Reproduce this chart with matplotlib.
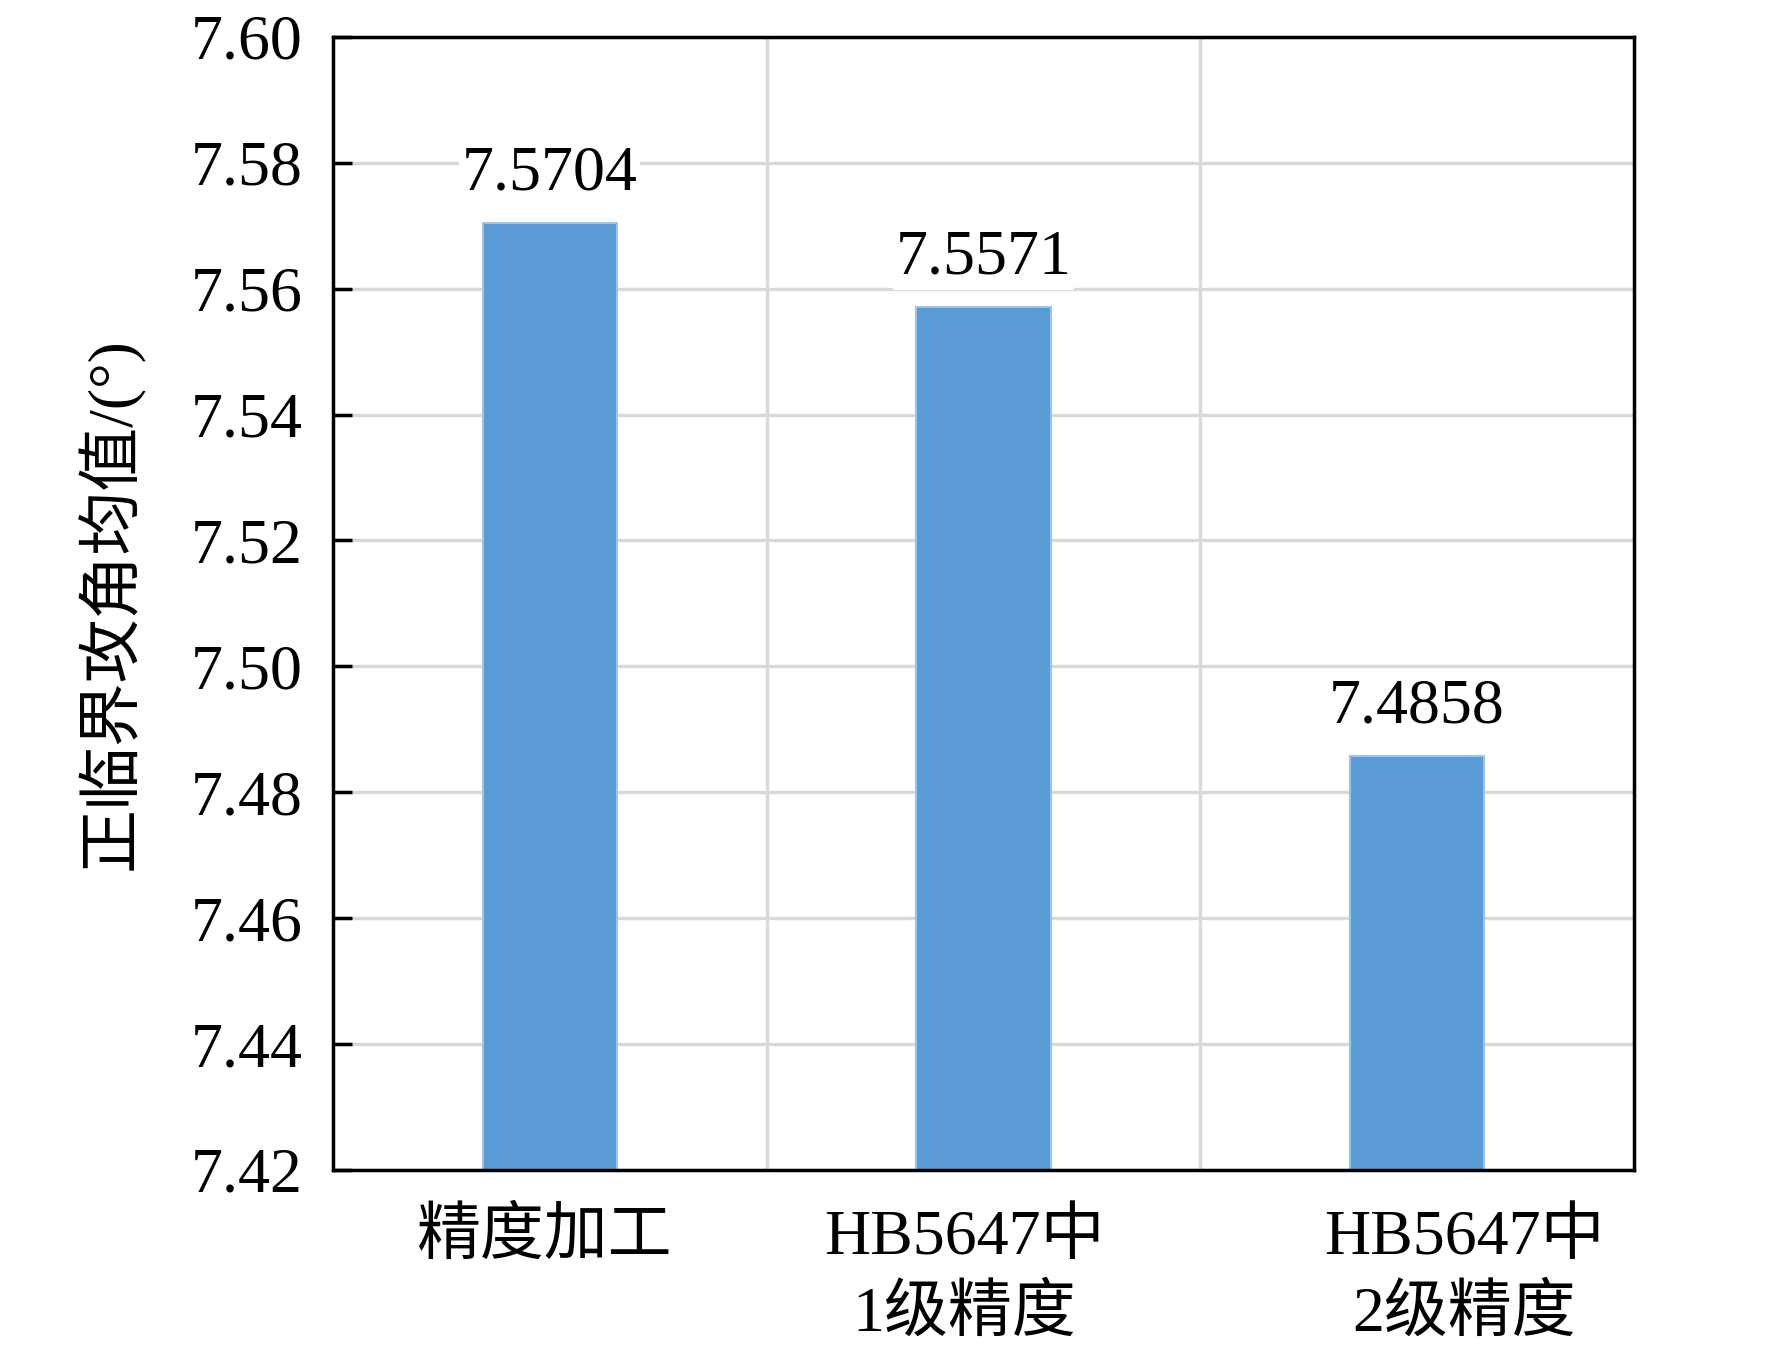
import matplotlib
matplotlib.use("Agg")
import matplotlib.pyplot as plt
import matplotlib.transforms as mtransforms
import numpy as np

categories = ["精度加工", "HB5647中\n1级精度", "HB5647中\n2级精度"]
values = [7.5704, 7.5571, 7.4858]
value_labels = ["7.5704", "7.5571", "7.4858"]
y_ticks = [7.42, 7.44, 7.46, 7.48, 7.50, 7.52, 7.54, 7.56, 7.58, 7.60]
y_label = "正临界攻角均值/(°)"

plt.rcParams['font.family'] = ['Liberation Serif', 'Noto Sans CJK SC', 'DejaVu Sans']
plt.rcParams['font.size'] = 46

fig = plt.figure(figsize=(17.72, 13.53), dpi=100)
ax = fig.add_axes([0.188, 0.1353, 0.734, 0.8374])

x = np.arange(len(categories))
bars = ax.bar(x, values, width=0.31, color='#5b9bd5', edgecolor='#9dc3e6',
              linewidth=1.5, zorder=3)

for xi, v, lab in zip(x, values, value_labels):
    ax.annotate(lab, (xi, v), xytext=(0, 24), textcoords='offset points',
                ha='center', va='baseline', fontsize=46, zorder=5,
                bbox=dict(facecolor='white', edgecolor='none', pad=2))

ax.set_xlim(-0.5, len(categories) - 0.5)
ax.set_ylim(y_ticks[0], y_ticks[-1])
ax.set_yticks(y_ticks)
ax.set_yticklabels([f"{t:.2f}" for t in y_ticks])
ax.set_xticks(x)
ax.set_xticklabels([])
ax.set_xticks(np.arange(len(categories) - 1) + 0.5, minor=True)

# category labels, drawn below the axis with small horizontal nudges (px at 100 dpi)
label_shifts_px = [-6, -19, 47]
for xi, cat, dx in zip(x, categories, label_shifts_px):
    tr = ax.get_xaxis_transform() + mtransforms.ScaledTranslation(
        dx / 100.0, -0.39, fig.dpi_scale_trans)
    ax.text(xi, 0, cat, transform=tr, ha='center', va='top', ma='center',
            fontsize=46, linespacing=1.40, clip_on=False)

ax.grid(axis='y', which='major', color='#d9d9d9', linewidth=2.4, zorder=0)
ax.grid(axis='x', which='minor', color='#d9d9d9', linewidth=2.4, zorder=0)
ax.set_axisbelow(True)

ax.tick_params(axis='y', direction='in', length=14, width=2.5, pad=22, labelsize=46)
ax.tick_params(axis='x', which='both', length=0)

for sp in ax.spines.values():
    sp.set_linewidth(2.5)
    sp.set_color('black')
    sp.set_zorder(6)

ax.set_ylabel(y_label, fontsize=46)
ax.yaxis.set_label_coords(-0.145, 0.5)

fig.savefig("out.png", dpi=100, facecolor='white')
